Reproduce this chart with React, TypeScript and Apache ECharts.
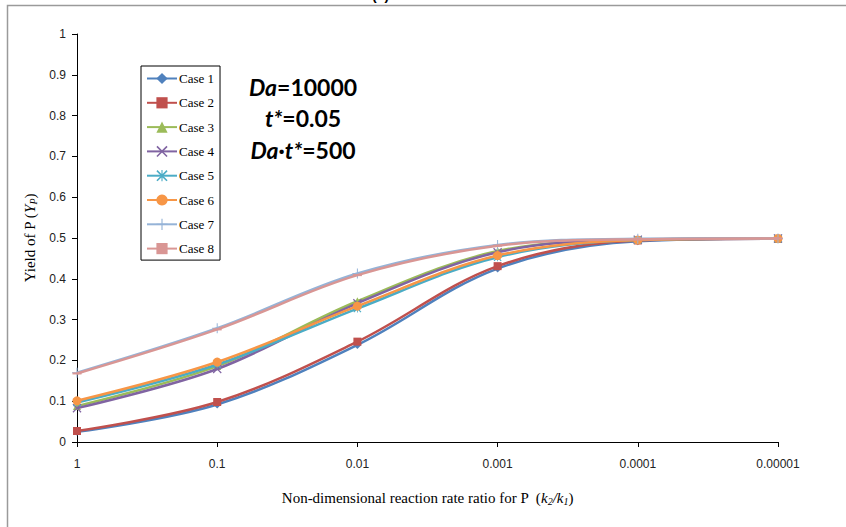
import React, { useEffect, useRef } from "react";
import * as echarts from "echarts";

const categories = ["1", "0.1", "0.01", "0.001", "0.0001", "0.00001"];
const yTicks = [0, 0.1, 0.2, 0.3, 0.4, 0.5, 0.6, 0.7, 0.8, 0.9, 1];

const case1 = [0.025, 0.092, 0.238, 0.425, 0.492, 0.498];
const case2 = [0.027, 0.098, 0.246, 0.431, 0.494, 0.498];
const case3 = [0.088, 0.186, 0.345, 0.468, 0.496, 0.499];
const case4 = [0.083, 0.179, 0.34, 0.465, 0.496, 0.499];
const case5 = [0.097, 0.19, 0.327, 0.453, 0.495, 0.499];
const case6 = [0.101, 0.196, 0.333, 0.457, 0.495, 0.499];
const case7 = [0.17, 0.279, 0.413, 0.483, 0.498, 0.499];
const case8 = [0.168, 0.276, 0.409, 0.481, 0.497, 0.499];

const seriesNames = ["Case 1", "Case 2", "Case 3", "Case 4", "Case 5", "Case 6", "Case 7", "Case 8"];
const seriesData = [case1, case2, case3, case4, case5, case6, case7, case8];
const colors = ["#4F81BD", "#C0504D", "#9BBB59", "#8064A2", "#4BACC6", "#F79646", "#95B3D7", "#D99694"];

const X_SYM = "path://M0,1L1,0L5,4L9,0L10,1L6,5L10,9L9,10L5,6L1,10L0,9L4,5Z";
const STAR_SYM = "path://M0,1L1,0L4.5,3.5L4.5,0L5.5,0L5.5,3.5L9,0L10,1L6,5L10,9L9,10L5.5,6.5L5.5,10L4.5,10L4.5,6.5L1,10L0,9L4,5Z";
const PLUS_SYM = "path://M4.5,0H5.5V4.5H10V5.5H5.5V10H4.5V5.5H0V4.5H4.5Z";
const symbols = ["diamond", "rect", "triangle", X_SYM, STAR_SYM, "circle", PLUS_SYM, "rect"];
const symbolSizes: any[] = [8, 8, 8, 9, 8, 9, 10, [9, 2]];

export default function App() {
  const ref = useRef<HTMLDivElement>(null);
  useEffect(() => {
    if (!ref.current) return;
    const chart = echarts.init(ref.current, undefined, { renderer: "svg" });
    const series = seriesNames.map((name, i) => ({
      name,
      type: "line",
      data: seriesData[i],
      smooth: 0.35,
      symbol: symbols[i],
      symbolSize: symbolSizes[i],
      showAllSymbol: true,
      lineStyle: { color: colors[i], width: 2.5 },
      itemStyle: { color: colors[i], borderColor: colors[i], borderWidth: 0 },
      z: 2 + i,
    }));
    const annRich = {
      i: { font: "italic bold 23px Lato", fill: "#000" },
      b: { font: "bold 23px Lato", fill: "#000" },
    };
    chart.setOption({
      animation: false,
      backgroundColor: "#fff",
      color: colors,
      grid: { left: 77, right: 68, top: 34, bottom: 85, containLabel: false },
      graphic: [
        {
          type: "rect",
          shape: { x: 7.5, y: 5.5, width: 1000, height: 700 },
          style: { fill: "none", stroke: "#9a9a9a", lineWidth: 1.5 },
          silent: true,
        },
        {
          type: "text",
          left: 372,
          top: -12,
          style: { text: "(a)", font: "bold 14px 'Liberation Sans'", fill: "#000" },
        },
        {
          type: "text",
          x: 303,
          y: 87,
          style: { text: "{i|Da}{b|=10000}", textAlign: "center", textVerticalAlign: "middle", rich: annRich },
        },
        {
          type: "text",
          x: 303,
          y: 118,
          style: { text: "{i|t*}{b|=0.05}", textAlign: "center", textVerticalAlign: "middle", rich: annRich },
        },
        {
          type: "text",
          x: 303,
          y: 150,
          style: { text: "{i|Da·t*}{b|=500}", textAlign: "center", textVerticalAlign: "middle", rich: annRich },
        },
      ],
      legend: {
        orient: "vertical",
        left: 141,
        top: 66,
        width: 85,
        padding: [6, 6, 5, 5],
        itemGap: 11.3,
        itemWidth: 30,
        itemHeight: 14,
        borderColor: "#000",
        borderWidth: 1,
        backgroundColor: "#fff",
        data: seriesNames,
        textStyle: { fontFamily: "'Liberation Serif'", fontSize: 13, color: "#000", padding: [0, 0, 0, -3] },
      },
      xAxis: {
        type: "category",
        data: categories,
        boundaryGap: false,
        name: "{n|Non-dimensional reaction rate ratio for P  (}{i|k}{s|2}{i|/k}{s|1}{n|)}",
        nameLocation: "middle",
        nameGap: 48,
        nameTextStyle: {
          rich: {
            n: { fontFamily: "'Liberation Serif'", fontSize: 15, color: "#000" },
            i: { fontFamily: "'Liberation Serif'", fontStyle: "italic", fontSize: 15, color: "#000" },
            s: { fontFamily: "'Liberation Serif'", fontStyle: "italic", fontSize: 10, color: "#000", verticalAlign: "bottom", padding: [6, 0, 0, 0] },
          },
        },
        axisLine: { lineStyle: { color: "#000", width: 1 } },
        axisTick: { show: true, inside: false, length: 5, lineStyle: { color: "#000" }, alignWithLabel: true },
        axisLabel: { margin: 16, fontFamily: "'Liberation Sans'", fontSize: 12, color: "#222" },
        splitLine: { show: false },
      },
      yAxis: {
        type: "value",
        min: yTicks[0],
        max: yTicks[yTicks.length - 1],
        interval: 0.1,
        name: "{n|Yield of P (}{i|Y}{s|P}{n|)}",
        nameLocation: "middle",
        nameGap: 38,
        nameRotate: 90,
        nameTextStyle: {
          rich: {
            n: { fontFamily: "'Liberation Serif'", fontSize: 15, color: "#000" },
            i: { fontFamily: "'Liberation Serif'", fontStyle: "italic", fontSize: 15, color: "#000" },
            s: { fontFamily: "'Liberation Serif'", fontStyle: "italic", fontSize: 10, color: "#000", verticalAlign: "bottom", padding: [6, 0, 0, 0] },
          },
        },
        axisLine: { show: true, lineStyle: { color: "#000", width: 1 } },
        axisTick: { show: true, inside: false, length: 5, lineStyle: { color: "#000" } },
        axisLabel: {
          margin: 11,
          fontFamily: "'Liberation Sans'",
          fontSize: 12,
          color: "#222",
          formatter: (v: number) => String(Math.round(v * 10) / 10),
        },
        splitLine: { show: false },
      },
      series,
    });
    return () => chart.dispose();
  }, []);
  return <div ref={ref} style={{ width: 846, height: 527, position: "absolute", left: 0, top: 0 }} />;
}
